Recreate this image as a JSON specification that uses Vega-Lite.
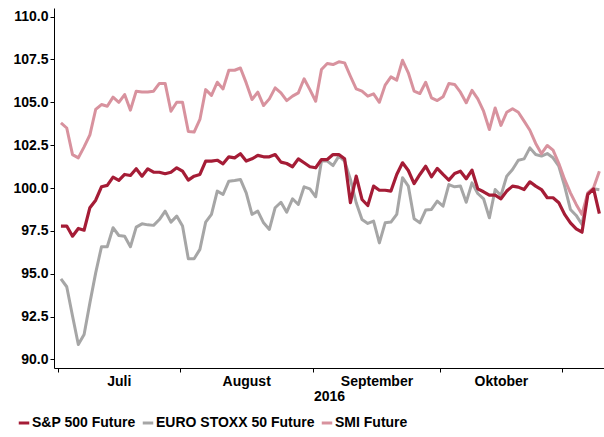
{
  "$schema": "https://vega.github.io/schema/vega-lite/v6.json",
  "width": 550,
  "height": 360,
  "autosize": {"type": "none"},
  "padding": {"left": 54, "top": 8, "right": 0, "bottom": 69},
  "background": "white",
  "config": {"view": {"stroke": null}, "font": "Liberation Sans"},
  "data": {"values": [
    {"t":0,"sp":97.78,"es":94.7,"smi":103.8},
    {"t":1,"sp":97.78,"es":94.24,"smi":103.5},
    {"t":2,"sp":97.19,"es":92.53,"smi":101.95},
    {"t":3,"sp":97.64,"es":90.87,"smi":101.76},
    {"t":4,"sp":97.54,"es":91.46,"smi":102.4},
    {"t":5,"sp":98.85,"es":93.3,"smi":103.1},
    {"t":6,"sp":99.29,"es":95.05,"smi":104.58},
    {"t":7,"sp":100.07,"es":96.57,"smi":104.87},
    {"t":8,"sp":100.15,"es":96.57,"smi":104.77},
    {"t":9,"sp":100.63,"es":97.68,"smi":105.3},
    {"t":10,"sp":100.44,"es":97.23,"smi":105.0},
    {"t":11,"sp":100.79,"es":97.19,"smi":105.45},
    {"t":12,"sp":100.73,"es":96.57,"smi":104.54},
    {"t":13,"sp":101.12,"es":97.72,"smi":105.65},
    {"t":14,"sp":100.69,"es":97.91,"smi":105.6},
    {"t":15,"sp":101.12,"es":97.85,"smi":105.6},
    {"t":16,"sp":100.92,"es":97.82,"smi":105.65},
    {"t":17,"sp":100.92,"es":98.16,"smi":106.1},
    {"t":18,"sp":100.83,"es":98.65,"smi":106.1},
    {"t":19,"sp":100.92,"es":98.01,"smi":104.48},
    {"t":20,"sp":101.18,"es":98.36,"smi":105.0},
    {"t":21,"sp":100.98,"es":97.78,"smi":105.0},
    {"t":22,"sp":100.46,"es":95.87,"smi":103.3},
    {"t":23,"sp":100.69,"es":95.87,"smi":103.26},
    {"t":24,"sp":100.79,"es":96.42,"smi":104.0},
    {"t":25,"sp":101.57,"es":98.01,"smi":105.74},
    {"t":26,"sp":101.57,"es":98.46,"smi":105.4},
    {"t":27,"sp":101.62,"es":99.82,"smi":106.17},
    {"t":28,"sp":101.41,"es":99.62,"smi":105.78},
    {"t":29,"sp":101.82,"es":100.4,"smi":106.87},
    {"t":30,"sp":101.76,"es":100.44,"smi":106.87},
    {"t":31,"sp":102.0,"es":100.5,"smi":107.0},
    {"t":32,"sp":101.57,"es":99.72,"smi":106.13},
    {"t":33,"sp":101.7,"es":98.46,"smi":105.16},
    {"t":34,"sp":101.9,"es":98.65,"smi":105.59},
    {"t":35,"sp":101.82,"es":97.97,"smi":104.81},
    {"t":36,"sp":101.82,"es":97.58,"smi":105.2},
    {"t":37,"sp":101.95,"es":98.85,"smi":105.84},
    {"t":38,"sp":101.51,"es":99.17,"smi":105.55},
    {"t":39,"sp":101.43,"es":98.59,"smi":105.1},
    {"t":40,"sp":101.24,"es":99.37,"smi":105.36},
    {"t":41,"sp":101.7,"es":99.04,"smi":105.55},
    {"t":42,"sp":101.47,"es":100.07,"smi":106.37},
    {"t":43,"sp":101.24,"es":99.95,"smi":105.74},
    {"t":44,"sp":101.18,"es":99.49,"smi":105.06},
    {"t":45,"sp":101.66,"es":101.57,"smi":106.91},
    {"t":46,"sp":101.66,"es":101.57,"smi":107.26},
    {"t":47,"sp":101.95,"es":101.31,"smi":107.2},
    {"t":48,"sp":101.95,"es":101.86,"smi":107.36},
    {"t":49,"sp":101.7,"es":101.57,"smi":107.3},
    {"t":50,"sp":99.14,"es":100.5,"smi":106.52},
    {"t":51,"sp":100.69,"es":99.14,"smi":105.78},
    {"t":52,"sp":99.33,"es":98.16,"smi":105.65},
    {"t":53,"sp":98.98,"es":97.93,"smi":105.36},
    {"t":54,"sp":100.11,"es":98.07,"smi":105.49},
    {"t":55,"sp":99.87,"es":96.8,"smi":105.0},
    {"t":56,"sp":99.87,"es":97.97,"smi":106.0},
    {"t":57,"sp":99.82,"es":98.01,"smi":106.48},
    {"t":58,"sp":100.79,"es":98.46,"smi":106.29},
    {"t":59,"sp":101.47,"es":100.6,"smi":107.45},
    {"t":60,"sp":101.02,"es":100.11,"smi":106.72},
    {"t":61,"sp":100.26,"es":98.2,"smi":105.65},
    {"t":62,"sp":100.79,"es":97.97,"smi":105.51},
    {"t":63,"sp":101.27,"es":98.71,"smi":106.17},
    {"t":64,"sp":100.65,"es":98.75,"smi":105.26},
    {"t":65,"sp":101.14,"es":99.23,"smi":105.1},
    {"t":66,"sp":100.79,"es":98.94,"smi":105.32},
    {"t":67,"sp":100.46,"es":100.2,"smi":106.09},
    {"t":68,"sp":100.85,"es":100.07,"smi":106.04},
    {"t":69,"sp":100.98,"es":100.11,"smi":105.59},
    {"t":70,"sp":100.54,"es":99.17,"smi":104.97},
    {"t":71,"sp":101.04,"es":100.3,"smi":105.7},
    {"t":72,"sp":99.95,"es":99.68,"smi":105.2},
    {"t":73,"sp":99.78,"es":99.37,"smi":104.48},
    {"t":74,"sp":99.58,"es":98.26,"smi":103.41},
    {"t":75,"sp":99.58,"es":99.91,"smi":104.67},
    {"t":76,"sp":99.37,"es":99.56,"smi":103.65},
    {"t":77,"sp":99.82,"es":100.69,"smi":104.42},
    {"t":78,"sp":100.11,"es":101.08,"smi":104.62},
    {"t":79,"sp":100.05,"es":101.62,"smi":104.42},
    {"t":80,"sp":99.91,"es":101.7,"smi":103.9},
    {"t":81,"sp":100.36,"es":102.34,"smi":103.37},
    {"t":82,"sp":100.11,"es":101.95,"smi":102.6},
    {"t":83,"sp":99.91,"es":101.86,"smi":102.0},
    {"t":84,"sp":99.43,"es":102.01,"smi":102.48},
    {"t":85,"sp":99.43,"es":101.76,"smi":102.21},
    {"t":86,"sp":99.14,"es":101.27,"smi":101.43},
    {"t":87,"sp":98.46,"es":100.11,"smi":100.5},
    {"t":88,"sp":97.97,"es":98.75,"smi":99.72},
    {"t":89,"sp":97.62,"es":98.4,"smi":99.04},
    {"t":90,"sp":97.42,"es":97.87,"smi":98.46},
    {"t":91,"sp":99.62,"es":99.68,"smi":99.72},
    {"t":92,"sp":99.95,"es":99.95,"smi":100.01},
    {"t":93,"sp":98.51,"es":99.9,"smi":100.98}
  ]},
  "transform": [{"fold": ["sp", "es", "smi"], "as": ["series", "value"]}],
  "encoding": {
    "x": {
      "field": "t", "type": "quantitative",
      "scale": {"domain": [-1.2, 93.8], "nice": false, "zero": false},
      "axis": {
        "title": "2016", "titleFontSize": 14, "titleFontWeight": "bold", "titleColor": "black", "titlePadding": 1,
        "domainColor": "black", "tickColor": "black", "tickSize": 4, "grid": false,
        "labelPadding": 2, "labelFontSize": 14, "labelFontWeight": "bold", "labelColor": "black",
        "values": [-0.5, 10, 20.5, 32, 43.5, 54.5, 65.5, 76, 86.5],
        "labelExpr": "datum.value == 10 ? 'Juli' : datum.value == 32 ? 'August' : datum.value == 54.5 ? 'September' : datum.value == 76 ? 'Oktober' : ''",
        "labelOverlap": false, "labelBound": false, "labelFlush": false,
        "tickOpacity": {"condition": {"test": "indexof([10, 32, 54.5, 76], datum.value) >= 0", "value": 0}, "value": 1}
      }
    },
    "y": {
      "field": "value", "type": "quantitative",
      "scale": {"domain": [89.5, 110.5], "nice": false, "zero": false},
      "axis": {
        "title": null, "values": [90, 92.5, 95, 97.5, 100, 102.5, 105, 107.5, 110], "format": ".1f",
        "domainColor": "black", "tickColor": "black", "tickSize": 4, "grid": false,
        "labelPadding": 2, "labelFontSize": 14, "labelFontWeight": "bold", "labelColor": "black"
      }
    },
    "color": {
      "field": "series", "type": "nominal",
      "scale": {"domain": ["sp", "es", "smi"], "range": ["#A51C36", "#A6A6A6", "#D8929E"]},
      "legend": {
        "orient": "none", "legendX": -37, "legendY": 408, "direction": "horizontal", "title": null,
        "symbolType": "stroke", "symbolSize": 110, "symbolStrokeWidth": 3,
        "labelFontSize": 14, "labelFontWeight": "bold", "labelColor": "black", "labelOffset": 1, "labelLimit": 300,
        "columnPadding": 0,
        "labelExpr": "{'sp': 'S&P 500 Future', 'es': 'EURO STOXX 50 Future', 'smi': 'SMI Future'}[datum.label]"
      }
    }
  },
  "layer": [
    {"transform": [{"filter": "datum.series == 'es'"}], "mark": {"type": "line", "strokeWidth": 3, "strokeJoin": "round"}},
    {"transform": [{"filter": "datum.series == 'smi'"}], "mark": {"type": "line", "strokeWidth": 3, "strokeJoin": "round"}},
    {"transform": [{"filter": "datum.series == 'sp'"}], "mark": {"type": "line", "strokeWidth": 3.2, "strokeJoin": "round"}}
  ]
}
